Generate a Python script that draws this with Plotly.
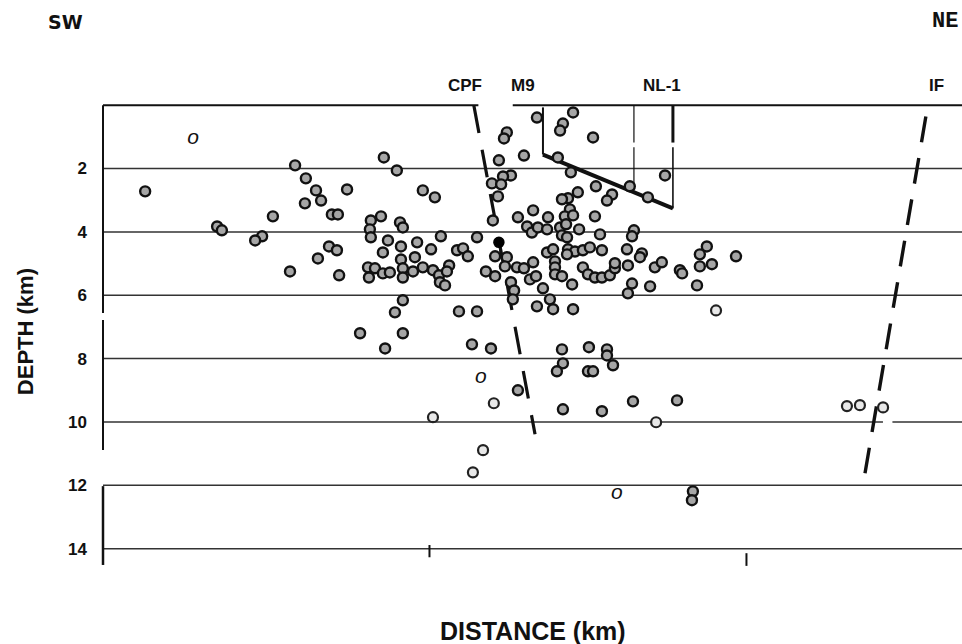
import plotly.graph_objects as go

# ---------------- data ----------------
# hypocentres drawn as grey-filled circles (distance km, depth km)
quake_dist = [1.03, 8.56, 5.76, 8.97, 6.10, 6.42, 7.40, 6.58, 6.07, 5.06,
              6.92, 7.11, 8.47, 8.15, 9.07, 9.16, 3.30, 3.45, 8.12, 8.15,
              8.69, 4.72, 4.50, 6.83, 7.08, 8.53, 6.48, 9.10, 9.10, 5.60,
              7.15, 8.06, 8.28, 8.09, 8.53, 8.75, 9.16, 8.91, 9.16, 9.16,
              9.48, 9.79, 10.11, 10.30, 10.62, 10.55, 10.33, 10.49, 9.61, 10.05,
              9.54, 10.87, 11.06, 11.21, 10.36, 11.50, 12.07, 12.44, 12.38, 11.78,
              12.07, 12.76, 12.98, 13.27, 13.71, 13.17, 13.36, 12.57, 12.67, 12.63,
              13.58, 10.93, 11.50, 13.39, 12.44, 12.35, 12.19, 12.98, 12.57, 12.32,
              11.97, 12.26, 9.79, 10.17, 12.16, 12.00, 13.27, 12.79, 13.74, 14.53,
              14.21, 14.12, 15.16, 14.05, 14.46, 15.25, 16.32, 16.89, 17.43, 15.76,
              15.60, 14.68, 14.37, 14.18, 14.43, 14.27, 14.53, 15.22, 13.08, 13.23,
              13.42, 13.71, 14.12, 14.18, 14.34, 14.31, 14.72, 15.38, 16.45, 16.39,
              13.90, 13.96, 13.96, 13.96, 14.18, 14.37, 14.59, 14.84, 15.06, 14.34,
              15.44, 16.23, 16.70, 16.64, 16.26, 14.84, 15.00, 15.22, 15.44, 15.69,
              15.85, 15.85, 17.11, 17.33, 17.90, 17.97, 18.75, 18.53, 18.91, 18.53,
              19.67, 14.50, 16.39, 16.26, 16.96, 18.44, 13.80, 13.90, 14.53, 13.39,
              7.81, 9.16, 8.60, 11.34, 11.94, 14.18, 15.03, 15.60, 15.60, 14.21,
              14.02, 15.00, 15.16, 15.79, 12.79, 14.21, 15.44, 16.42, 17.81, 18.31,
              18.28]
quake_depth = [2.72, 1.65, 1.90, 2.06, 2.31, 2.69, 2.66, 3.01, 3.10, 3.51,
               3.45, 3.45, 3.51, 3.64, 3.70, 3.86, 3.83, 3.95, 3.92, 4.17,
               4.27, 4.14, 4.27, 4.46, 4.58, 4.65, 4.84, 4.46, 4.87, 5.25,
               5.37, 5.12, 5.15, 5.44, 5.31, 5.28, 6.16, 6.54, 5.15, 5.44,
               5.25, 5.12, 5.21, 5.37, 5.06, 5.25, 5.59, 5.69, 4.33, 4.55,
               4.80, 4.58, 4.52, 4.77, 4.14, 4.17, 4.77, 4.80, 5.09, 5.25,
               5.40, 5.12, 5.15, 4.96, 4.65, 5.50, 5.40, 5.59, 5.85, 6.13,
               5.78, 6.51, 6.51, 0.39, 0.86, 1.05, 1.74, 1.59, 2.22, 2.25,
               2.47, 2.50, 2.69, 2.91, 2.88, 3.64, 3.32, 3.54, 3.54, 0.23,
               0.58, 0.80, 1.02, 1.65, 2.12, 2.56, 2.56, 2.91, 2.22, 2.82,
               3.01, 2.75, 2.94, 2.97, 3.29, 3.51, 3.48, 3.51, 3.83, 4.02,
               3.86, 3.92, 3.86, 4.11, 4.17, 3.76, 3.92, 4.08, 3.95, 4.14,
               4.55, 4.93, 5.12, 5.34, 5.40, 4.55, 4.62, 4.58, 4.49, 4.71,
               4.58, 4.55, 4.68, 4.80, 5.06, 5.12, 5.34, 5.44, 5.44, 5.37,
               5.15, 4.99, 5.12, 4.96, 5.21, 5.31, 4.46, 4.71, 5.02, 5.09,
               4.77, 5.66, 5.63, 5.94, 5.72, 5.69, 6.13, 6.44, 6.44, 6.35,
               7.20, 7.20, 7.68, 7.55, 7.68, 7.71, 7.64, 7.71, 7.90, 8.15,
               8.40, 8.40, 8.40, 8.21, 9.00, 9.60, 9.66, 9.35, 9.32, 12.19,
               12.47]

# hypocentres drawn as open circles
open_dist = [19.04, 12.03, 17.15, 10.11, 11.69, 11.37, 23.17, 23.58, 24.31]
open_depth = [6.48, 9.41, 10.01, 9.85, 10.89, 11.59, 9.50, 9.47, 9.54]

# main shock M9 (solid black) and its short stem
m9_dist = [12.19, 12.26]
m9_depth = [4.33, 4.77]

# stray italic "o" symbols of the original
o_dist = [2.54, 11.62, 15.91]
o_depth = [1.05, 8.59, 12.28]

# fault traces
cpf_dist = [11.40, 13.33]
cpf_depth = [0.01, 10.39]
if_dist = [25.66, 23.74]
if_depth = [0.36, 11.62]

# NL-1 well outline
nl1_left_dist = [13.58, 13.58]
nl1_left_depth = [0.07, 1.56]
nl1_diag_dist = [13.58, 17.68]
nl1_diag_depth = [1.56, 3.26]
nl1_right_low_dist = [17.68, 17.68]
nl1_right_low_depth = [3.26, 1.33]
nl1_right_up_dist = [17.68, 17.68]
nl1_right_up_depth = [1.18, 0.0]
nl1_mid_dist = [16.45, 16.45, None, 16.45, 16.45]
nl1_mid_depth = [0.0, 1.18, None, 1.33, 2.60]

depth_ticks = [2, 4, 6, 8, 10, 12, 14]
grid_depths = [2, 4, 6, 8, 12, 14]
dist_ticks = [10, 20]

fault_labels = ["CPF", "M9", "NL-1", "IF"]
fault_label_dist = [11.12, 12.94, 17.33, 26.01]

# ---------------- figure ----------------
X_RANGE = [-0.3, 26.8]
Y_RANGE = [14.2, -0.1]
FONT = "Liberation Sans"
INK = "#111111"

fig = go.Figure()

# faults
fig.add_trace(go.Scatter(x=cpf_dist, y=cpf_depth, mode="lines",
                         line=dict(color=INK, width=3.2, dash="28px,17px"),
                         hoverinfo="skip", showlegend=False))
fig.add_trace(go.Scatter(x=if_dist, y=if_depth, mode="lines",
                         line=dict(color=INK, width=3.4, dash="26px,16px"),
                         hoverinfo="skip", showlegend=False))

# NL-1 outline
for xs, ys, w in [(nl1_left_dist, nl1_left_depth, 2),
                  (nl1_diag_dist, nl1_diag_depth, 4),
                  (nl1_right_low_dist, nl1_right_low_depth, 1.6),
                  (nl1_right_up_dist, nl1_right_up_depth, 3),
                  (nl1_mid_dist, nl1_mid_depth, 1.2)]:
    fig.add_trace(go.Scatter(x=xs, y=ys, mode="lines",
                             line=dict(color=INK, width=w),
                             connectgaps=False,
                             hoverinfo="skip", showlegend=False))

# events
fig.add_trace(go.Scatter(x=quake_dist, y=quake_depth, mode="markers",
                         marker=dict(size=10, color="#a6a6a6",
                                     line=dict(color=INK, width=2.4)),
                         hoverinfo="skip", showlegend=False))
fig.add_trace(go.Scatter(x=open_dist, y=open_depth, mode="markers",
                         marker=dict(size=10, color="#e8e8e8",
                                     line=dict(color="#222222", width=2.2)),
                         hoverinfo="skip", showlegend=False))
fig.add_trace(go.Scatter(x=m9_dist, y=m9_depth, mode="lines",
                         line=dict(color=INK, width=2),
                         hoverinfo="skip", showlegend=False))
fig.add_trace(go.Scatter(x=m9_dist[:1], y=m9_depth[:1], mode="markers",
                         marker=dict(size=10, color="#000000",
                                     line=dict(color="#000000", width=1.5)),
                         hoverinfo="skip", showlegend=False))
fig.add_trace(go.Scatter(x=o_dist, y=o_depth, mode="text",
                         text=["<i>o</i>"] * len(o_dist),
                         textfont=dict(family=FONT, size=21, color=INK),
                         hoverinfo="skip", showlegend=False))

shapes = []
# horizontal depth lines
for d in grid_depths:
    shapes.append(dict(type="line", xref="paper", yref="y", x0=0, x1=1,
                       y0=d, y1=d, layer="below",
                       line=dict(color="#333333", width=1.5)))
# top line (with gap under CPF/M9 labels)
shapes.append(dict(type="line", xref="paper", yref="y", x0=0, x1=0.437,
                   y0=0, y1=0, layer="below", line=dict(color=INK, width=2)))
shapes.append(dict(type="line", xref="paper", yref="y", x0=0.477, x1=1,
                   y0=0, y1=0, layer="below", line=dict(color=INK, width=2)))
# 10 km line (small gap near IF)
shapes.append(dict(type="line", xref="paper", yref="y", x0=0, x1=0.908,
                   y0=10, y1=10, layer="below", line=dict(color="#333333", width=1.5)))
shapes.append(dict(type="line", xref="paper", yref="y", x0=0.919, x1=1,
                   y0=10, y1=10, layer="below", line=dict(color="#333333", width=1.5)))
# left axis (broken)
for y0, y1, w in [(0.993, 0.534, 2), (0.519, 0.232, 2), (0.152, -0.022, 2.5)]:
    shapes.append(dict(type="line", xref="paper", yref="paper", x0=0, x1=0,
                       y0=y0, y1=y1, line=dict(color=INK, width=w)))
# distance ticks
for t, (y0, y1) in zip(dist_ticks, [(0.022, -0.005), (0.004, -0.024)]):
    shapes.append(dict(type="line", xref="x", yref="paper", x0=t, x1=t,
                       y0=y0, y1=y1, line=dict(color=INK, width=2)))

annotations = []
for lab, xd in zip(fault_labels, fault_label_dist):
    annotations.append(dict(text=f"<b>{lab}</b>", xref="x", yref="paper",
                            x=xd, y=1.0375, showarrow=False, xanchor="center",
                            yanchor="middle",
                            font=dict(family=FONT, size=17, color=INK)))
annotations.append(dict(text="<b>SW</b>", xref="paper", yref="paper",
                        x=-0.0442, y=1.177, showarrow=False,
                        xanchor="center", yanchor="middle",
                        font=dict(family="DejaVu Sans", size=19, color=INK)))
annotations.append(dict(text="<b>NE</b>", xref="paper", yref="paper",
                        x=0.9797, y=1.177, showarrow=False,
                        xanchor="center", yanchor="middle",
                        font=dict(family="Liberation Mono", size=22, color=INK)))
annotations.append(dict(text="<b>DEPTH (km)</b>", xref="paper", yref="paper",
                        x=-0.0908, y=0.492, textangle=-90, showarrow=False,
                        xanchor="center", yanchor="middle",
                        font=dict(family=FONT, size=22, color=INK)))
annotations.append(dict(text="<b>DISTANCE (km)</b>", xref="paper", yref="paper",
                        x=0.5006, y=-0.168, showarrow=False,
                        xanchor="center", yanchor="middle",
                        font=dict(family=FONT, size=25, color=INK)))

fig.update_layout(
    width=962, height=644,
    margin=dict(l=103, r=0, t=102, b=89),
    paper_bgcolor="white", plot_bgcolor="white",
    shapes=shapes, annotations=annotations,
    hovermode=False,
    xaxis=dict(range=X_RANGE, showgrid=False, zeroline=False, showline=False,
               showticklabels=False, ticks="", fixedrange=True),
    yaxis=dict(range=Y_RANGE, showgrid=False, zeroline=False, showline=False,
               tickmode="array", tickvals=depth_ticks,
               ticktext=[f"<b>{t}</b>" for t in depth_ticks],
               tickfont=dict(family=FONT, size=17, color=INK),
               ticks="", ticklabelstandoff=15, fixedrange=True),
)

# remove the default page margin so the figure fills the 962x644 window exactly
fig.write_html("out.html",
               config={"displayModeBar": False, "staticPlot": True},
               post_script="document.body.style.margin='0px';"
                           "document.body.style.overflow='hidden';")
